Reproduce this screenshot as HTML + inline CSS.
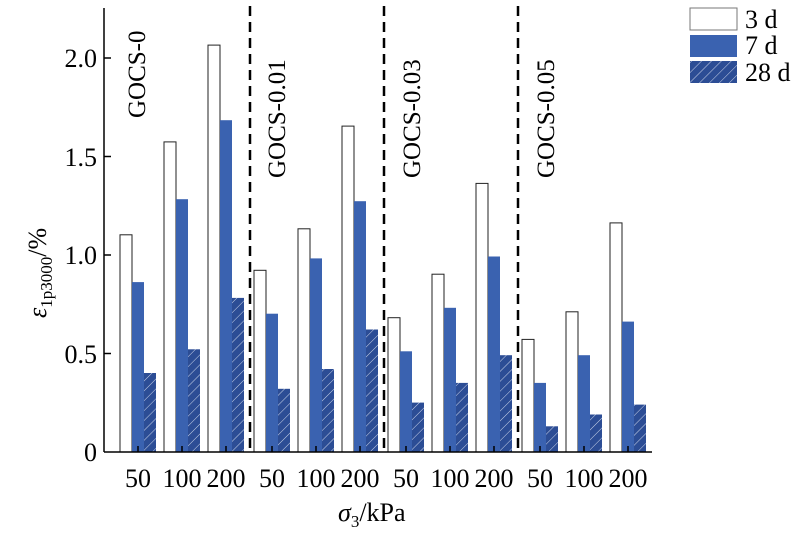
<!DOCTYPE html>
<html><head><meta charset="utf-8"><style>body{margin:0;background:#fff}</style></head><body>
<svg width="800" height="532" xmlns="http://www.w3.org/2000/svg" font-family="Liberation Serif, serif">
<defs>
<pattern id="h" patternUnits="userSpaceOnUse" width="7" height="7" patternTransform="rotate(45)">
<rect width="7" height="7" fill="#2c4d95"/><line x1="0" y1="0" x2="0" y2="7" stroke="#c8d2e8" stroke-width="1"/>
</pattern>
</defs>
<g stroke="#222" stroke-width="1" fill="#fff">
<rect x="120" y="234.8" width="12" height="217.2"/><rect x="164" y="141.9" width="12" height="310.1"/><rect x="208" y="45.1" width="12" height="406.9"/>
<rect x="254" y="270.3" width="12" height="181.7"/><rect x="298" y="228.8" width="12" height="223.2"/><rect x="342" y="126.1" width="12" height="325.9"/>
<rect x="388" y="317.7" width="12" height="134.3"/><rect x="432" y="274.2" width="12" height="177.8"/><rect x="476" y="183.4" width="12" height="268.6"/>
<rect x="522" y="339.4" width="12" height="112.6"/><rect x="566" y="311.8" width="12" height="140.2"/><rect x="610" y="222.9" width="12" height="229.1"/>
</g>
<g fill="#3a62b0">
<rect x="132" y="282.1" width="12" height="169.9"/><rect x="176" y="199.2" width="12" height="252.8"/><rect x="220" y="120.2" width="12" height="331.8"/>
<rect x="266" y="313.7" width="12" height="138.3"/><rect x="310" y="258.4" width="12" height="193.6"/><rect x="354" y="201.2" width="12" height="250.8"/>
<rect x="400" y="351.3" width="12" height="100.7"/><rect x="444" y="307.8" width="12" height="144.2"/><rect x="488" y="256.5" width="12" height="195.5"/>
<rect x="534" y="382.9" width="12" height="69.1"/><rect x="578" y="355.2" width="12" height="96.8"/><rect x="622" y="321.6" width="12" height="130.4"/>
</g>
<g fill="url(#h)">
<rect x="144" y="373" width="12" height="79"/><rect x="188" y="349.3" width="12" height="102.7"/><rect x="232" y="297.9" width="12" height="154.1"/>
<rect x="278" y="388.8" width="12" height="63.2"/><rect x="322" y="369" width="12" height="83"/><rect x="366" y="329.5" width="12" height="122.5"/>
<rect x="412" y="402.6" width="12" height="49.4"/><rect x="456" y="382.9" width="12" height="69.1"/><rect x="500" y="355.2" width="12" height="96.8"/>
<rect x="546" y="426.3" width="12" height="25.7"/><rect x="590" y="414.5" width="12" height="37.5"/><rect x="634" y="404.6" width="12" height="47.4"/>
</g>
<line x1="104" y1="8" x2="104" y2="452" stroke="#000" stroke-width="1.5"/>
<line x1="104" y1="452" x2="652" y2="452" stroke="#000" stroke-width="1.5"/>
<g stroke="#000" stroke-width="1.5">
<line x1="104" y1="58" x2="111" y2="58"/><line x1="104" y1="156.5" x2="111" y2="156.5"/>
<line x1="104" y1="255" x2="111" y2="255"/><line x1="104" y1="353.5" x2="111" y2="353.5"/>
<line x1="138" y1="452" x2="138" y2="446"/><line x1="182" y1="452" x2="182" y2="446"/><line x1="226" y1="452" x2="226" y2="446"/>
<line x1="272" y1="452" x2="272" y2="446"/><line x1="316" y1="452" x2="316" y2="446"/><line x1="360" y1="452" x2="360" y2="446"/>
<line x1="406" y1="452" x2="406" y2="446"/><line x1="450" y1="452" x2="450" y2="446"/><line x1="494" y1="452" x2="494" y2="446"/>
<line x1="540" y1="452" x2="540" y2="446"/><line x1="584" y1="452" x2="584" y2="446"/><line x1="628" y1="452" x2="628" y2="446"/>
</g>
<g stroke="#000" stroke-width="2.5" stroke-dasharray="10,6">
<line x1="250" y1="6" x2="250" y2="452"/><line x1="384" y1="6" x2="384" y2="452"/><line x1="518" y1="6" x2="518" y2="452"/>
</g>
<g font-size="26" text-anchor="end">
<text x="97" y="67">2.0</text><text x="97" y="166">1.5</text><text x="97" y="264">1.0</text><text x="97" y="363">0.5</text><text x="97" y="461">0</text>
</g>
<g font-size="26" text-anchor="middle">
<text x="138" y="487">50</text><text x="182" y="487">100</text><text x="226" y="487">200</text>
<text x="272" y="487">50</text><text x="316" y="487">100</text><text x="360" y="487">200</text>
<text x="406" y="487">50</text><text x="450" y="487">100</text><text x="494" y="487">200</text>
<text x="540" y="487">50</text><text x="584" y="487">100</text><text x="628" y="487">200</text>
</g>
<g font-size="25">
<text transform="translate(145,118) rotate(-90)">GOCS-0</text>
<text transform="translate(285,178) rotate(-90)">GOCS-0.01</text>
<text transform="translate(420,178) rotate(-90)">GOCS-0.03</text>
<text transform="translate(554,178) rotate(-90)">GOCS-0.05</text>
</g>
<text transform="translate(46,318) rotate(-90)" font-size="26"><tspan font-style="italic">ε</tspan><tspan font-size="17" dy="6">1p3000</tspan><tspan dy="-6">/%</tspan></text>
<text x="338" y="521" font-size="26"><tspan font-style="italic">σ</tspan><tspan font-size="17" dy="6">3</tspan><tspan dy="-6">/kPa</tspan></text>
<rect x="690" y="8" width="47" height="22" fill="#fff" stroke="#777"/>
<rect x="690" y="35" width="47" height="22" fill="#3a62b0"/>
<rect x="690" y="61" width="47" height="22" fill="url(#h)"/>
<g font-size="26"><text x="745" y="28">3 d</text><text x="745" y="54">7 d</text><text x="745" y="81">28 d</text></g>
</svg>
</body></html>
